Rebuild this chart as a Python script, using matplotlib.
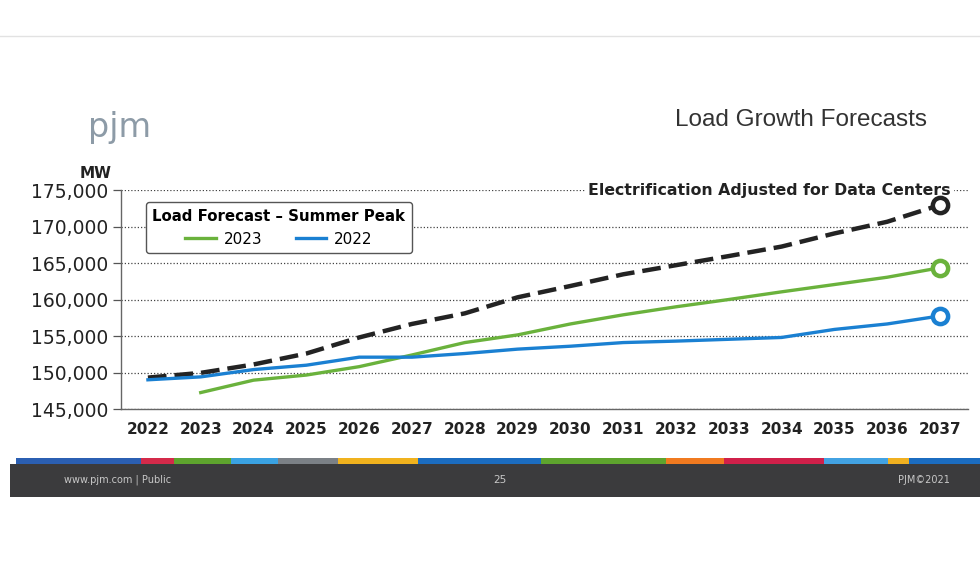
"""Recreate the PJM 'Load Growth Forecasts' slide chart."""

import matplotlib

matplotlib.use("Agg")
import matplotlib.pyplot as plt
from matplotlib.patches import Rectangle
from matplotlib.ticker import FuncFormatter

years = list(range(2022, 2038))

# 2022 load forecast (summer peak, MW)
forecast_2022 = [149000, 149400, 150400, 151000, 152100, 152100, 152600, 153200,
                 153600, 154100, 154300, 154550, 154800, 155900, 156650, 157750]
# 2023 load forecast starts in 2023
years_2023 = years[1:]
forecast_2023 = [147250, 148950, 149650, 150800, 152400, 154100, 155150, 156650,
                 157900, 159000, 160000, 161050, 162050, 163050, 164350]
# electrification adjusted for data centers
electrification = [149300, 149950, 151100, 152600, 154800, 156650, 158100, 160300,
                   161850, 163450, 164700, 165950, 167250, 169050, 170650, 172950]

y_ticks = [145000, 150000, 155000, 160000, 165000, 170000, 175000]

footer_colors = ["#2b5fb2", "#d42a4a", "#5ea42e", "#3aa2e2", "#7b8086", "#f0b21e",
                 "#1b6cc0", "#5ea42e", "#f07a20", "#d0204a", "#42a2e2", "#f0b020",
                 "#1b6cc0"]
footer_edges = [16, 141, 174, 231, 278, 338, 418, 541, 666, 724, 824, 888, 909, 980]

GREEN = "#6ab23c"
BLUE = "#1a80d2"
BLACK = "#232323"

W, H = 980, 576


def fx(px):
    return px / W


def fy(py):
    return 1 - py / H


fig = plt.figure(figsize=(9.8, 5.76), dpi=100)
fig.patch.set_facecolor("white")

# slide top edge
fig.add_artist(plt.Line2D([0, 1], [fy(36), fy(36)], color="#e2e2e2", lw=1.0))

# header
fig.text(fx(88), fy(127), "pjm", fontsize=24, color="#8d9ba7", va="center",
         family="DejaVu Sans")
fig.text(fx(927), fy(120), "Load Growth Forecasts", fontsize=17.5, color="#333333",
         ha="right", va="center", family="Liberation Sans")

# footer bar
fig.add_artist(Rectangle((fx(10), fy(497)), fx(970), (497 - 464) / H,
                         transform=fig.transFigure, color="#3b3b3d", lw=0))
for c, x0, x1 in zip(footer_colors, footer_edges[:-1], footer_edges[1:]):
    fig.add_artist(Rectangle((fx(x0), fy(464)), fx(x1 - x0), 6 / H,
                             transform=fig.transFigure, color=c, lw=0))
fig.text(fx(64), fy(480), "www.pjm.com | Public", fontsize=7, color="#c8c8c8",
         va="center")
fig.text(fx(500), fy(480), "25", fontsize=7.5, color="#c8c8c8", va="center", ha="center")
fig.text(fx(950), fy(480), "PJM\u00a92021", fontsize=7, color="#c8c8c8", va="center",
         ha="right")

# chart
ax = fig.add_axes([fx(121), fy(409), fx(968 - 121), (409 - 190) / H])
ax.set_facecolor("none")
ax.set_xlim(2021.49, 2037.53)
ax.set_ylim(145000, 175000)

ax.plot(years, electrification, color=BLACK, lw=3.2, dashes=(4.2, 1.8), zorder=3)
ax.plot(years_2023, forecast_2023, color=GREEN, lw=2.4, zorder=3, label="2023")
ax.plot(years, forecast_2022, color=BLUE, lw=2.4, zorder=3, label="2022")

for ys, xs, c in [(electrification, years, BLACK), (forecast_2023, years_2023, GREEN),
                  (forecast_2022, years, BLUE)]:
    ax.plot(xs[-1], ys[-1], "o", ms=11, mfc="white", mec=c, mew=3.2, zorder=4)

ax.set_yticks(y_ticks)
ax.yaxis.set_major_formatter(FuncFormatter(lambda v, _: f"{v:,.0f}"))
ax.set_xticks(years)
ax.tick_params(axis="y", length=6, width=0.9, color="#555555", labelsize=13.5,
               labelcolor="#222222", pad=3)
ax.tick_params(axis="x", length=0, labelsize=11, labelcolor="#222222", pad=9)
for lbl in ax.get_xticklabels():
    lbl.set_fontweight("bold")

ax.grid(axis="y", linestyle=(0, (1, 1.6)), color="#444444", lw=0.9)
for s in ["top", "right"]:
    ax.spines[s].set_visible(False)
for s in ["left", "bottom"]:
    ax.spines[s].set_color("#666666")
    ax.spines[s].set_linewidth(1.0)

ax.text(-25 / (968 - 121), 1.04, "MW", transform=ax.transAxes,
        fontsize=11, fontweight="bold", color="#222222", ha="center", va="bottom")

ax.text(0.98, 175000, "Electrification Adjusted for Data Centers",
        transform=ax.get_yaxis_transform(), fontsize=11.3, fontweight="bold",
        color="#222222", ha="right", va="center",
        bbox=dict(facecolor="white", edgecolor="none", pad=2))

leg = ax.legend(title="Load Forecast \u2013 Summer Peak", ncol=2, loc="upper left",
                bbox_to_anchor=(0.02, 0.98), fontsize=11, frameon=True,
                fancybox=True, edgecolor="#555555", handlelength=2.0,
                columnspacing=2.2, handletextpad=0.5, borderpad=0.45,
                title_fontproperties={"weight": "bold", "size": 10.8})
leg.get_frame().set_linewidth(1.0)
leg.get_frame().set_alpha(1)

fig.savefig("out.png", dpi=100)
